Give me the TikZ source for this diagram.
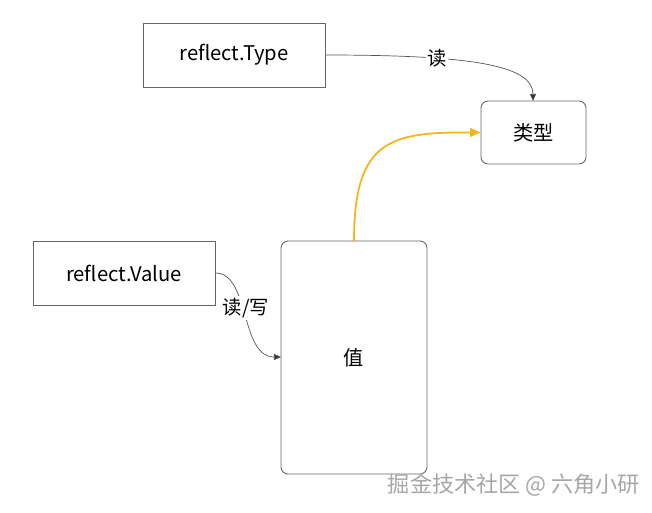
\documentclass[tikz,border=0pt]{standalone}
\usepackage{fontspec}
\setmainfont{Noto Sans CJK SC}
\usetikzlibrary{arrows.meta}
\definecolor{boxline}{HTML}{666666}
\definecolor{linkgray}{HTML}{555555}
\definecolor{linkyellow}{HTML}{F4B41A}

\begin{document}
\begin{tikzpicture}[x=0.02cm, y=-0.02cm,
  box/.style={draw=boxline, line width=0.5pt, fill=white, inner sep=0pt, font=\fontsize{11.5}{13}\selectfont},
  roundbox/.style={box, rounded corners=4pt},
  link/.style={draw=linkgray, line width=0.4pt, -{Triangle[length=4pt, width=3.5pt, fill=black!80]}},
  linklabel/.style={fill=white, inner sep=1pt, font=\fontsize{11}{13}\selectfont}]
  \useasboundingbox (0,0) rectangle (652,512);

  % 四个方框
  \node[box, minimum width=182*0.02cm, minimum height=64*0.02cm] (rtype) at (234,55) {reflect.Type};
  \node[roundbox, minimum width=105*0.02cm, minimum height=63*0.02cm] (kind) at (533.5,132.5) {类型};
  \node[box, minimum width=182*0.02cm, minimum height=64*0.02cm] (rvalue) at (124,273) {reflect.Value};
  \node[roundbox, minimum width=146*0.02cm, minimum height=233*0.02cm] (val) at (354,357.5) {值};

  % 连线端点
  \coordinate (kindtop) at (533,101);
  \coordinate (valtop) at (354,241);
  \coordinate (valleft) at (281,357);

  % reflect.Type 读 类型
  \draw[link] (rtype.east) .. controls (470,55) and (533,65) .. (kindtop);
  \node[linklabel] (readlbl) at (437,58) {读};

  % reflect.Value 读/写 值
  \draw[link] (rvalue.east) .. controls (250,273) and (240,357) .. (valleft);
  \node[linklabel] (rwlbl) at (246,308) {读/写};

  % 值 -> 类型
  \draw[draw=linkyellow, line width=1pt, -{Triangle[length=6pt, width=5pt]}]
    (valtop) .. controls (354,140) and (390,132) .. (kind.west);

  % 水印
  \node[text=gray!70, font=\fontsize{12.6}{14}\selectfont] (mark) at (514,485) {掘金技术社区 @ 六角小研};
\end{tikzpicture}
\end{document}
